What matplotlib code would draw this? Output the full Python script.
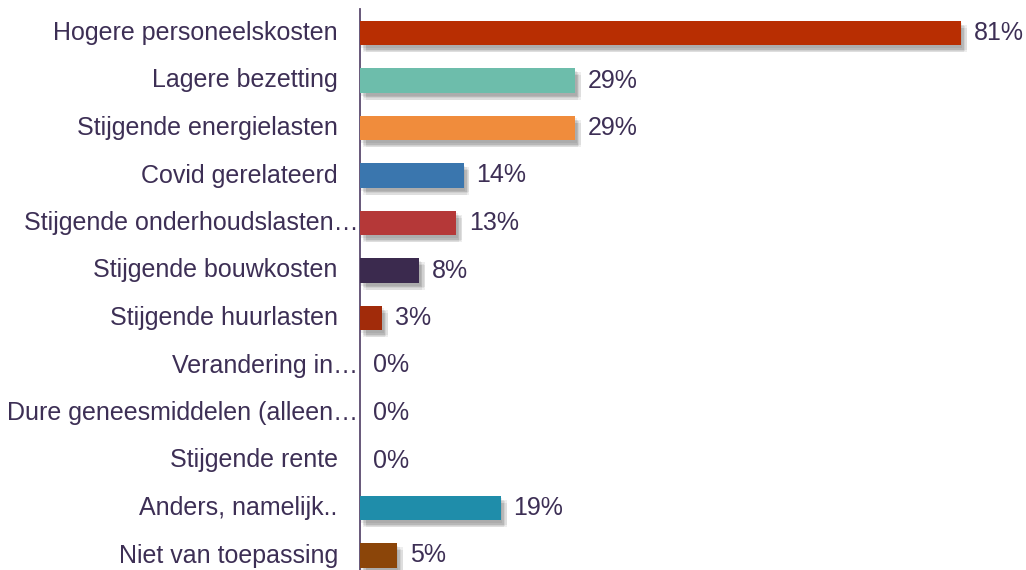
import matplotlib.pyplot as plt
import matplotlib.patheffects as pe

# Data
categories = [
    'Hogere personeelskosten', 'Lagere bezetting', 'Stijgende energielasten',
    'Covid gerelateerd', 'Stijgende onderhoudslasten…', 'Stijgende bouwkosten',
    'Stijgende huurlasten', 'Verandering in…', 'Dure geneesmiddelen (alleen…',
    'Stijgende rente', 'Anders, namelijk..', 'Niet van toepassing',
]
values = [81, 29, 29, 14, 13, 8, 3, 0, 0, 0, 19, 5]
colors = ['#B82E02', '#6DBDAB', '#F08C3C', '#3A76AE', '#B53838', '#3B2A4E',
          '#A12B0A', '#888888', '#888888', '#888888', '#1F8DAA', '#8B4509']
truncated = [c.endswith('…') for c in categories]

text_color = '#3D2F55'
plt.rcParams['font.family'] = ['Liberation Sans', 'DejaVu Sans']

fig = plt.figure(figsize=(10.26, 5.70), dpi=100)
ax = fig.add_axes([360 / 1026, -9.25 / 570, 666 / 1026, 1.0])

y = list(range(len(categories)))
bars = ax.barh(y, values, height=0.52, color=colors, zorder=3)

# soft drop shadow (several faint layers to fake a blur)
shadow = [pe.SimplePatchShadow(offset=(dx, dy), shadow_rgbFace='#444444', alpha=0.09)
          for dx, dy in [(1, -2), (2, -3), (3, -4), (4, -5), (2, -5), (4, -3)]]
for b in bars:
    b.set_path_effects(shadow + [pe.Normal()])

ax.set_xlim(0, 666 / 7.42)
ax.set_ylim(len(categories) - 0.5, -0.5)

# value labels
for yi, v in zip(y, values):
    ax.annotate(f'{v}%', xy=(v, yi), xytext=(9, 0), textcoords='offset points',
                ha='left', va='center', fontsize=18, color=text_color)

# category labels
ax.set_yticks([])
for yi, c, t in zip(y, categories, truncated):
    off = -1 if t else -16
    ax.annotate(c, xy=(0, yi), xytext=(off, 0), textcoords='offset points',
                ha='right', va='center', fontsize=18, color=text_color)

ax.set_xticks([])
for s in ['top', 'right', 'bottom']:
    ax.spines[s].set_visible(False)
ax.spines['left'].set_color('#5A4A6E')
ax.spines['left'].set_linewidth(1.3)

fig.savefig('out.png', dpi=100)
